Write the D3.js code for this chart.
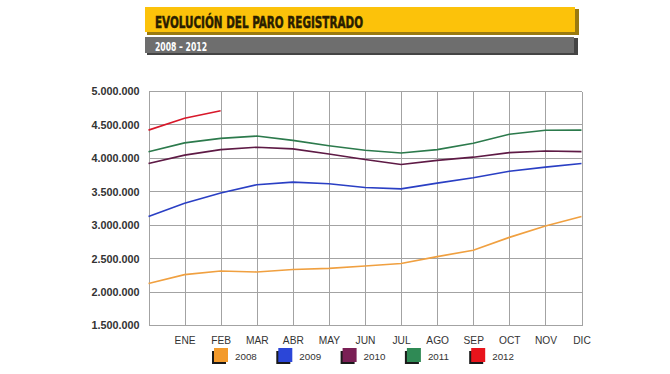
<!DOCTYPE html>
<html>
<head>
<meta charset="utf-8">
<script src="https://cdn.jsdelivr.net/npm/d3@7"></script>
<style>
  body { margin: 0; background: #fff; }
  svg { display: block; }
  .grid line, .grid path { stroke: #a3a3a3; stroke-width: 1; shape-rendering: crispEdges; }
</style>
</head>
<body>
<svg id="chart" width="670" height="374"></svg>
<script>
// month labels; slot 0 is December of the previous year (no label)
const months = ['', 'ENE', 'FEB', 'MAR', 'ABR', 'MAY', 'JUN', 'JUL', 'AGO', 'SEP', 'OCT', 'NOV', 'DIC'];
const years = ['2008', '2009', '2010', '2011', '2012'];
const colors = ['#f39a2b', '#2b46d8', '#7a1f55', '#2f8a55', '#e8141c'];
const lineColors = ['#f0a040', '#2a3fc4', '#5e1a45', '#2c7a4c', '#d8182a'];

const paro2008 = [2129547, 2261013, 2315331, 2300975, 2338517, 2353986, 2390403, 2426996, 2530001, 2625368, 2818026, 2989269, 3128963];
const paro2009 = [3128963, 3327801, 3481859, 3605402, 3644041, 3620139, 3564889, 3544105, 3629080, 3709447, 3808353, 3868946, 3923603];
const paro2010 = [3923603, 4048493, 4130625, 4166613, 4142425, 4066202, 3982368, 3908268, 3969661, 4017763, 4085976, 4110294, 4100073];
const paro2011 = [4100073, 4231003, 4299263, 4333669, 4269360, 4189659, 4121801, 4079742, 4130927, 4226744, 4360926, 4420462, 4422359];
const paro2012 = [4422359, 4599829, 4712098];
const series = [paro2008, paro2009, paro2010, paro2011, paro2012];

const yTicks = [1500000, 2000000, 2500000, 3000000, 3500000, 4000000, 4500000, 5000000];

const svg = d3.select('#chart');

// header bars
const head = svg.append('g');
head.append('rect').attr('x', 147).attr('y', 9).attr('width', 432).attr('height', 26).attr('fill', '#9a7a10');
head.append('rect').attr('x', 145).attr('y', 7).attr('width', 430).attr('height', 25).attr('fill', '#fcc20a');
head.append('rect').attr('x', 147).attr('y', 38).attr('width', 431).attr('height', 17).attr('fill', '#444');
head.append('rect').attr('x', 145).attr('y', 37).attr('width', 429).attr('height', 16).attr('fill', '#6e6e6e');
head.append('text').attr('x', 155).attr('y', 28)
  .attr('font-family', '"Liberation Sans Narrow", "DejaVu Sans Condensed", sans-serif')
  .attr('font-weight', 'bold').attr('font-size', 16.5).attr('fill', '#2a1e00')
  .attr('stroke', '#2a1e00').attr('stroke-width', 0.5)
  .attr('textLength', 208).attr('lengthAdjust', 'spacingAndGlyphs')
  .text('EVOLUCIÓN DEL PARO REGISTRADO');
head.append('text').attr('x', 155).attr('y', 50.5)
  .attr('font-family', '"Liberation Sans Narrow", "DejaVu Sans Condensed", sans-serif')
  .attr('font-weight', 'bold').attr('font-size', 12.5).attr('fill', '#fff')
  .attr('textLength', 52).attr('lengthAdjust', 'spacingAndGlyphs')
  .text('2008 – 2012');

// scales
const x = d3.scaleLinear().domain([0, 12]).range([148.5, 581.5]);
const y = d3.scaleLinear().domain([1500000, 5000000]).range([325.5, 91.5]);

const es = d3.formatLocale({ decimal: ',', thousands: '.', grouping: [3], currency: ['', '€'] });
const fmt = es.format(',d');

// grid
svg.append('g').attr('class', 'grid')
  .selectAll('line.v').data(d3.range(13)).join('line')
  .attr('x1', d => Math.round(x(d)) + 0.5).attr('x2', d => Math.round(x(d)) + 0.5)
  .attr('y1', y(5000000)).attr('y2', y(1500000));
svg.append('g').attr('class', 'grid')
  .selectAll('line.h').data(yTicks).join('line')
  .attr('x1', x(0)).attr('x2', x(12))
  .attr('y1', d => y(d)).attr('y2', d => y(d));

// y axis labels
const yAxis = svg.append('g').attr('transform', `translate(${x(0)},0)`)
  .call(d3.axisLeft(y).tickValues(yTicks).tickFormat(fmt).tickSize(0).tickPadding(9));
yAxis.select('.domain').remove();
yAxis.selectAll('text').attr('font-family', 'Liberation Sans, Arial, sans-serif')
  .attr('font-weight', 'bold').attr('font-size', 10.8).attr('fill', '#333');

// x axis labels
const xAxis = svg.append('g').attr('transform', `translate(0,${y(1500000)})`)
  .call(d3.axisBottom(x).tickValues(d3.range(1, 13)).tickFormat(i => months[i]).tickSize(0).tickPadding(11));
xAxis.select('.domain').remove();
xAxis.selectAll('text').attr('font-family', 'Liberation Sans, Arial, sans-serif')
  .attr('font-size', 10.2).attr('fill', '#333');

// lines
const line = d3.line().x((d, i) => x(i)).y(d => y(d));
svg.append('g').selectAll('path').data(series).join('path')
  .attr('d', line).attr('fill', 'none')
  .attr('stroke', (d, i) => lineColors[i]).attr('stroke-width', 1.6);

// legend
const leg = svg.append('g').selectAll('g').data(years).join('g')
  .attr('transform', (d, i) => `translate(${214 + i * 64.3},348)`);
leg.append('rect').attr('x', -2).attr('y', 3).attr('width', 14).attr('height', 13).attr('fill', '#1a1a1a');
leg.append('rect').attr('x', 0).attr('y', 0).attr('width', 14).attr('height', 14).attr('fill', (d, i) => colors[i]);
leg.append('text').attr('x', 21).attr('y', 12)
  .attr('font-family', 'Liberation Sans, Arial, sans-serif').attr('font-size', 9.8).attr('fill', '#333')
  .text(d => d);
</script>
</body>
</html>
